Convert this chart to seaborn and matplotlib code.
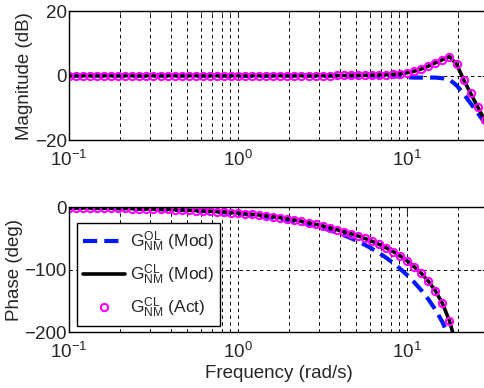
import numpy as np
import pandas as pd
import matplotlib
matplotlib.use("Agg")
import matplotlib.pyplot as plt
import seaborn as sns
from matplotlib.lines import Line2D
from matplotlib.ticker import LogLocator, NullFormatter

# frequency grid (rad/s)
freq = [
    0.1, 0.1101, 0.1212, 0.1334, 0.1468, 0.1616, 0.1778, 0.1957, 0.2154, 0.2371,
    0.2610, 0.2873, 0.3162, 0.3481, 0.3831, 0.4217, 0.4642, 0.5109, 0.5623, 0.6190,
    0.6813, 0.7499, 0.8254, 0.9085, 1.0, 1.101, 1.212, 1.334, 1.468, 1.616,
    1.778, 1.957, 2.154, 2.371, 2.610, 2.873, 3.162, 3.481, 3.831, 4.217,
    4.642, 5.109, 5.623, 6.190, 6.813, 7.499, 8.254, 9.085, 10.0, 11.01,
    12.12, 13.34, 14.68, 16.16, 17.78, 19.57, 21.54, 23.71, 26.10, 28.73,
    31.62,
]

# magnitude (dB)
mag_ol = [0.0] * 44 + [
    -0.05, -0.1, -0.15, -0.3, -0.5, -0.6, -0.6, -0.6, -0.6, -0.8,
    -1.2, -3.0, -5.6, -8.6, -11.6, -14.6, -17.6,
]
mag_cl = [0.0] * 38 + [
    0.05, 0.05, 0.1, 0.1, 0.15, 0.2, 0.3, 0.35, 0.45, 0.6,
    0.9, 1.4, 2.1, 3.0, 4.0, 5.0, 5.9, 3.6, -1.2, -5.5,
    -9.7, -13.8, -18.0,
]
mag_act = list(mag_cl)

# phase (deg)
ph_ol = [
    -1.0, -1.1, -1.2, -1.3, -1.5, -1.6, -1.8, -2.0, -2.2, -2.4,
    -2.7, -2.9, -3.2, -3.5, -3.9, -4.3, -4.7, -5.2, -5.7, -6.3,
    -6.9, -7.6, -8.4, -9.3, -10.2, -11.2, -12.4, -13.7, -15.1, -16.7,
    -18.5, -20.4, -22.5, -24.9, -27.5, -30.3, -33.4, -36.9, -40.7, -44.9,
    -49.5, -54.6, -60.2, -66.4, -73.2, -80.8, -89.2, -98.5, -108.8, -120.3,
    -133.0, -147.5, -164.0, -184.0, -210.0, -240.0, -270.0, -295.0, -315.0, -330.0,
    -340.0,
]
ph_cl = [
    -0.9, -1.0, -1.1, -1.2, -1.4, -1.5, -1.7, -1.8, -2.0, -2.2,
    -2.5, -2.7, -3.0, -3.3, -3.6, -4.0, -4.4, -4.8, -5.3, -5.8,
    -6.4, -7.0, -7.8, -8.6, -9.4, -10.3, -11.4, -12.5, -13.8, -15.2,
    -16.8, -18.5, -20.5, -22.5, -24.8, -27.3, -30.0, -32.8, -35.8, -39.0,
    -42.4, -46.0, -50.0, -54.5, -59.5, -65.0, -71.0, -78.0, -86.0, -95.5,
    -106.0, -118.5, -134.0, -154.0, -182.0, -222.0, -262.0, -300.0, -330.0, -350.0,
    -365.0,
]
ph_act = list(ph_cl)

labels = [
    r"$\mathrm{G_{NM}^{OL}}$ (Mod)",
    r"$\mathrm{G_{NM}^{CL}}$ (Mod)",
    r"$\mathrm{G_{NM}^{CL}}$ (Act)",
]

df = pd.DataFrame({
    "freq": freq,
    "mag_ol": mag_ol, "mag_cl": mag_cl, "mag_act": mag_act,
    "ph_ol": ph_ol, "ph_cl": ph_cl, "ph_act": ph_act,
})

sns.set_style("white")
plt.rcParams["font.family"] = ["Liberation Sans", "DejaVu Sans"]
plt.rcParams["mathtext.fontset"] = "custom"
plt.rcParams["mathtext.rm"] = "Liberation Sans"
plt.rcParams["mathtext.it"] = "Liberation Sans:italic"
plt.rcParams["font.size"] = 13

fig = plt.figure(figsize=(4.85, 3.88), dpi=100)
ax1 = fig.add_axes([0.142, 0.639, 0.864, 0.332])
ax2 = fig.add_axes([0.142, 0.144, 0.864, 0.322])

blue = "#0018ff"
ol_kw = dict(color=blue, linewidth=3, linestyle=(0, (3.4, 1.7)))
cl_kw = dict(color="black", linewidth=2.6)
act_kw = dict(color="magenta", linestyle="none", marker="o", markersize=5.2,
              markerfacecolor="none", markeredgewidth=1.5, markeredgecolor="magenta")

for ax, pre in [(ax1, "mag"), (ax2, "ph")]:
    sns.lineplot(data=df, x="freq", y=pre + "_ol", ax=ax, estimator=None, **ol_kw)
    sns.lineplot(data=df, x="freq", y=pre + "_cl", ax=ax, estimator=None, **cl_kw)
    sns.lineplot(data=df, x="freq", y=pre + "_act", ax=ax, estimator=None, **act_kw)
    ax.set_xscale("log")
    ax.set_xlim(0.1, 30)
    ax.xaxis.set_major_locator(LogLocator(base=10, numticks=10))
    ax.xaxis.set_minor_locator(LogLocator(base=10, subs=np.arange(2, 10), numticks=10))
    ax.xaxis.set_minor_formatter(NullFormatter())
    ax.grid(True, which="both", axis="x", color="black", linewidth=0.7,
            linestyle=(0, (3.5, 3.5)))
    ax.grid(True, which="major", axis="y", color="black", linewidth=0.7,
            linestyle=(0, (3.5, 3.5)))
    ax.tick_params(which="both", direction="in", top=True, right=True,
                   labelsize=13.5)
    ax.tick_params(axis="y", pad=1.5)
    ax.tick_params(axis="x", pad=7)
    ax.tick_params(which="major", length=4)
    ax.tick_params(which="minor", length=2)
    for sp in ax.spines.values():
        sp.set_color("black")
        sp.set_linewidth(1)
    ax.set_xlabel("")

ax1.set_ylim(-20, 20)
ax1.set_yticks([-20, 0, 20])
ax1.set_ylabel("Magnitude (dB)", fontsize=13.5, labelpad=1)

ax2.set_ylim(-200, 0)
ax2.set_yticks([-200, -100, 0])
ax2.set_ylabel("Phase (deg)", fontsize=13.5, labelpad=1)
ax2.set_xlabel("Frequency (rad/s)", fontsize=13.5, labelpad=2)

handles = [
    Line2D([], [], **ol_kw),
    Line2D([], [], **cl_kw),
    Line2D([], [], **act_kw),
]
leg = ax2.legend(handles, labels, loc="lower left", bbox_to_anchor=(0.019, 0.048),
                 borderaxespad=0, fancybox=False, framealpha=1, edgecolor="black",
                 fontsize=12.5, handlelength=2.4, handletextpad=0.3,
                 labelspacing=0.5, borderpad=0.35)
leg.get_frame().set_linewidth(1)

fig.savefig("out.png", dpi=100)
